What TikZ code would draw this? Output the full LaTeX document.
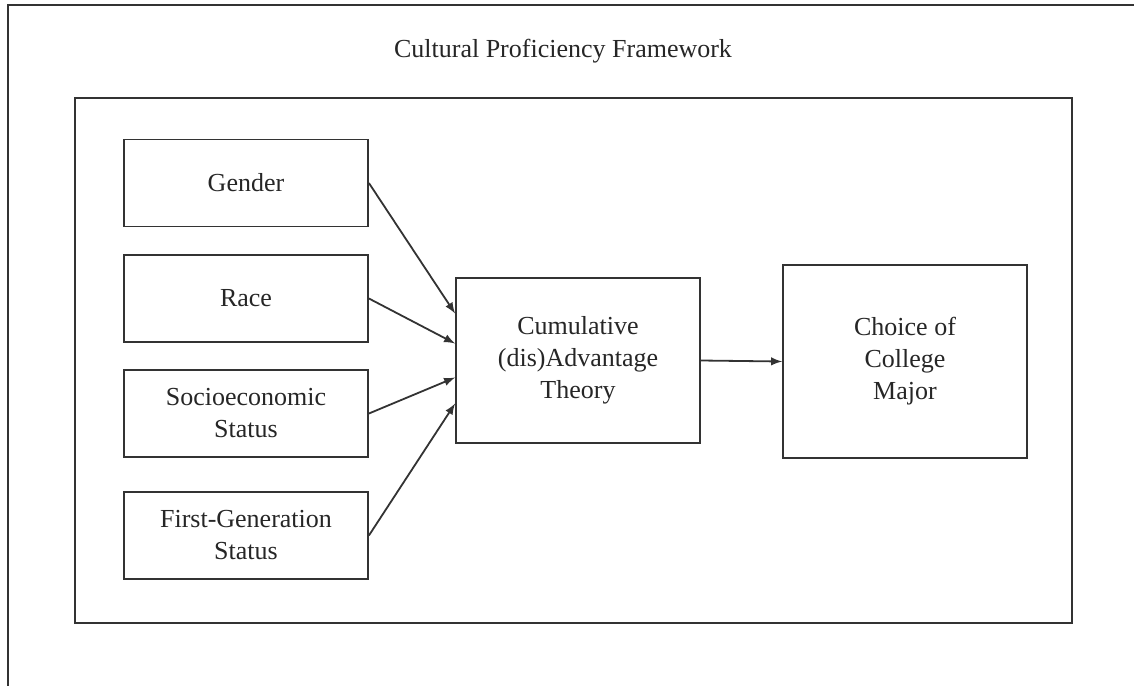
\documentclass[tikz,border=0pt]{standalone}
\usepackage{fontspec}
\setmainfont{Liberation Serif}
\usepackage{tikz}
\usetikzlibrary{arrows}
\usetikzlibrary{calc}

\tikzset{
    box/.style={draw=black!80, line width=0.9pt, inner sep=0pt, align=center,
                minimum width=122pt, text=black!85,
                font=\fontsize{13}{16}\selectfont},
    link/.style={draw=black!80, line width=0.9pt, -latex}
}

\begin{document}
\begin{tikzpicture}[x=0.5pt, y=-0.5pt]
            \useasboundingbox (0,0) rectangle (1134,685);
            \draw[black!80, line width=0.9pt] (8,700) -- (8,5) -- (1140,5);
            \draw[black!80, line width=0.9pt] (75,98) rectangle (1072,623);
            \node[text=black!85, font=\fontsize{13}{16}\selectfont] (title) at (563,51) {Cultural Proficiency Framework};
            \node[box, minimum height=43.5pt] (gender) at (246,183) {Gender};
            \node[box, minimum height=43.5pt] (race) at (246,298.5) {Race};
            \node[box, minimum height=43.5pt] (ses) at (246,413.5) {Socioeconomic\\Status};
            \node[box, minimum height=43.5pt] (firstgen) at (246,535.5) {First-Generation\\Status};
            \node[box, minimum height=82.5pt] (cat) at (578,360.5) {Cumulative\\(dis)Advantage\\Theory};
            \node[box, minimum height=96.5pt] (major) at (905,361.5) {Choice of\\College\\Major};
            \draw[link] (gender.east) -- ($(cat.west)+(0,-47)$);
            \draw[link] (race.east) -- ($(cat.west)+(0,-17)$);
            \draw[link] (ses.east) -- ($(cat.west)+(0,17)$);
            \draw[link] (firstgen.east) -- ($(cat.west)+(0,43)$);
            \draw[link] (cat.east) -- (major.west);
        \end{tikzpicture}
\end{document}
